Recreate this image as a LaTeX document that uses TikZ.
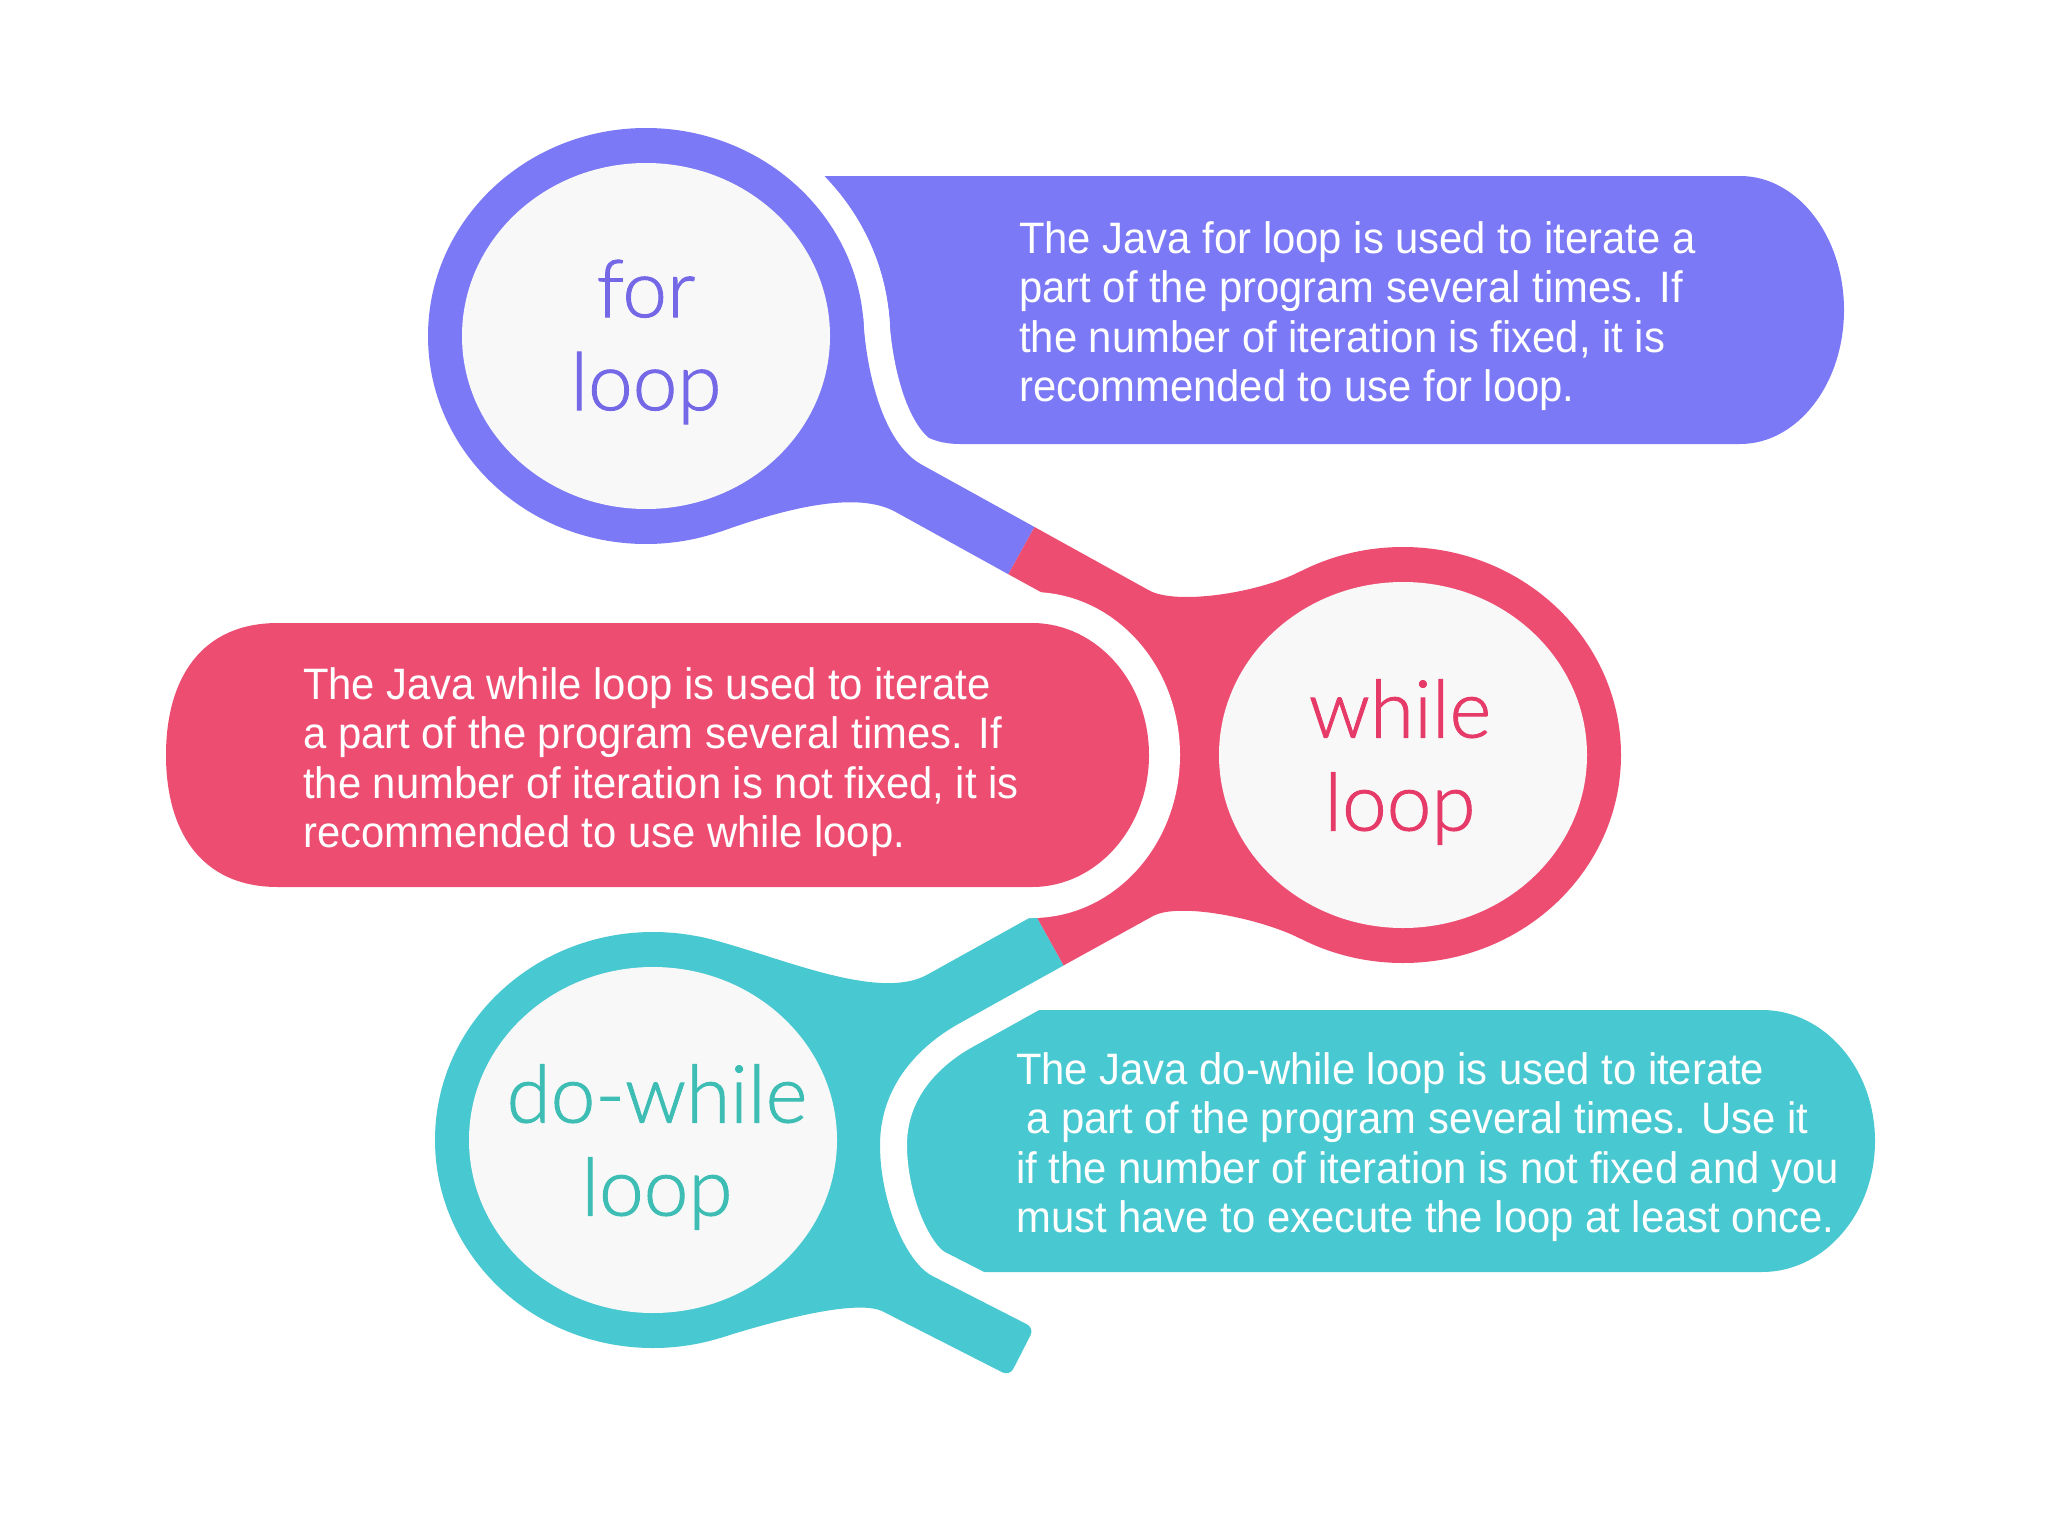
\documentclass[tikz,border=0pt]{standalone}
\usepackage{fontspec}
\setmainfont{Liberation Sans}
\newfontfamily\bodyfont{Liberation Sans}[FakeStretch=0.95]
\newfontfamily\lblfont{Lato Light}[FakeBold=1.2]
\definecolor{cblue}{HTML}{7B79F5}
\definecolor{cred}{HTML}{EE4D72}
\definecolor{cteal}{HTML}{48C8D0}
\definecolor{tblue}{HTML}{7468E6}
\definecolor{tred}{HTML}{E63A68}
\definecolor{tteal}{HTML}{3DBDB4}
\definecolor{cwhite}{HTML}{F8F8F9}
\tikzset{
  boxtext/.style={text=white, align=left, anchor=west, inner sep=0pt, font={\bodyfont\fontsize{44}{49.3}\selectfont}},
  lbl/.style={align=center, inner sep=0pt, font={\lblfont\fontsize{80}{93}\selectfont}},
  gapb/.style={draw=white, line width=52pt, line join=round},
  gapt/.style={draw=white, line width=54pt, line join=round},
}
\def\forring{(646,336) ellipse [x radius=218, y radius=208]}
\def\forneck{(646,336) -- (863.2,317.9) .. controls (866,370) and (882.2,442.8) .. (921.6,464.6) -- (1034.5,527) -- (1008.3,574.2) -- (895.4,511.8) .. controls (851.6,487.6) and (767.9,515.1) .. (720.6,531.5) -- cycle}
\def\whilering{(1403,755) ellipse [x radius=218, y radius=208]}
\def\redblob{(1034.5,527) -- (1149.1,590.4) .. controls (1175.4,605) and (1256.1,593.9) .. (1300.7,571.3) -- (1403,755) -- (1300.7,938.7) .. controls (1260.6,918.4) and (1178.9,901.7) .. (1152.7,916.2) -- (1063.6,965.4) -- (1035.4,914.6) -- (1090,884) -- (1150,810) -- (1150,700) -- (1090,619) -- (1008.3,574.2) -- cycle}
\def\doring{(653,1140) ellipse [x radius=218, y radius=208]}
\def\doneck{(653,1140) -- (698.3,936.5) .. controls (766.6,950.5) and (875.2,1003.7) .. (927.6,974.5) -- (1035.4,914.6) -- (1063.6,965.4) -- (960.2,1022.9) .. controls (920,1045) and (880,1085) .. (880,1145) .. controls (880,1200) and (905,1262) .. (932.6,1276.1) [rounded corners=8] -- (1034.2,1328) -- (1009.6,1376) -- (890.2,1315.2) [sharp corners] .. controls (854.6,1297) and (758.6,1326) .. (720.4,1337.8) -- cycle}
\begin{document}
\begin{tikzpicture}[x=1pt,y=-1pt]
\useasboundingbox (0,0) rectangle (2048,1536);
\fill[white] (0,0) rectangle (2048,1536);
% text boxes (blue, teal)
\fill[cblue] (810,176) -- (1740,176) arc[start angle=-90,end angle=90,x radius=104,y radius=134] -- (960,444) .. controls (920,444) and (897,420) .. (897,383) -- (890,336) arc[start angle=0,end angle=-43.1,x radius=244,y radius=234] -- cycle;
\fill[cteal] (800,1010) -- (1762,1010) arc[start angle=-90,end angle=90,x radius=113,y radius=131] -- (800,1272) -- cycle;
% white gaps
\path[gapb] \forring;
\path[gapb] \forneck;
\path[gapt] \doring;
\path[gapt] \doneck;
% magnifiers
\fill[cblue] \forring;
\fill[cblue] \forneck;
\fill[cteal] \doring;
\fill[cteal] \doneck;
\fill[cred] \redblob;
\fill[cred] \whilering;
% red text box
\fill[cred, preaction={draw=white, line width=62pt}] (278,623) -- (1032,623) arc[start angle=-90,end angle=90,x radius=117,y radius=132] -- (278,887) .. controls (200,887) and (166,830) .. (166,755) .. controls (166,680) and (200,623) .. (278,623) -- cycle;
% inner circles
\fill[cwhite] (646,336) ellipse [x radius=184, y radius=173];
\fill[cwhite] (1403,755) ellipse [x radius=184, y radius=173];
\fill[cwhite] (653,1140) ellipse [x radius=184, y radius=173];
% labels
\node[lbl, text=tblue] (forlbl) at (646,342) {for\\loop};
\node[lbl, text=tred] (whilelbl) at (1400,762) {while\\loop};
\node[lbl, text=tteal] (dolbl) at (657,1147) {do-while\\loop};
% box texts
\node[boxtext] (fortext) at (1019,316) {The Java for loop is used to iterate a\\part of the program several times. If\\the number of iteration is fixed, it is\\recommended to use for loop.};
\node[boxtext] (whiletext) at (303,762) {The Java while loop is used to iterate\\a part of the program several times. If\\the number of iteration is not fixed, it is\\recommended to use while loop.};
\node[boxtext] (dotext) at (1016,1147) {The Java do-while loop is used to iterate\\\hspace*{10pt}a part of the program several times. Use it\\if the number of iteration is not fixed and you\\must have to execute the loop at least once.};
\end{tikzpicture}
\end{document}
